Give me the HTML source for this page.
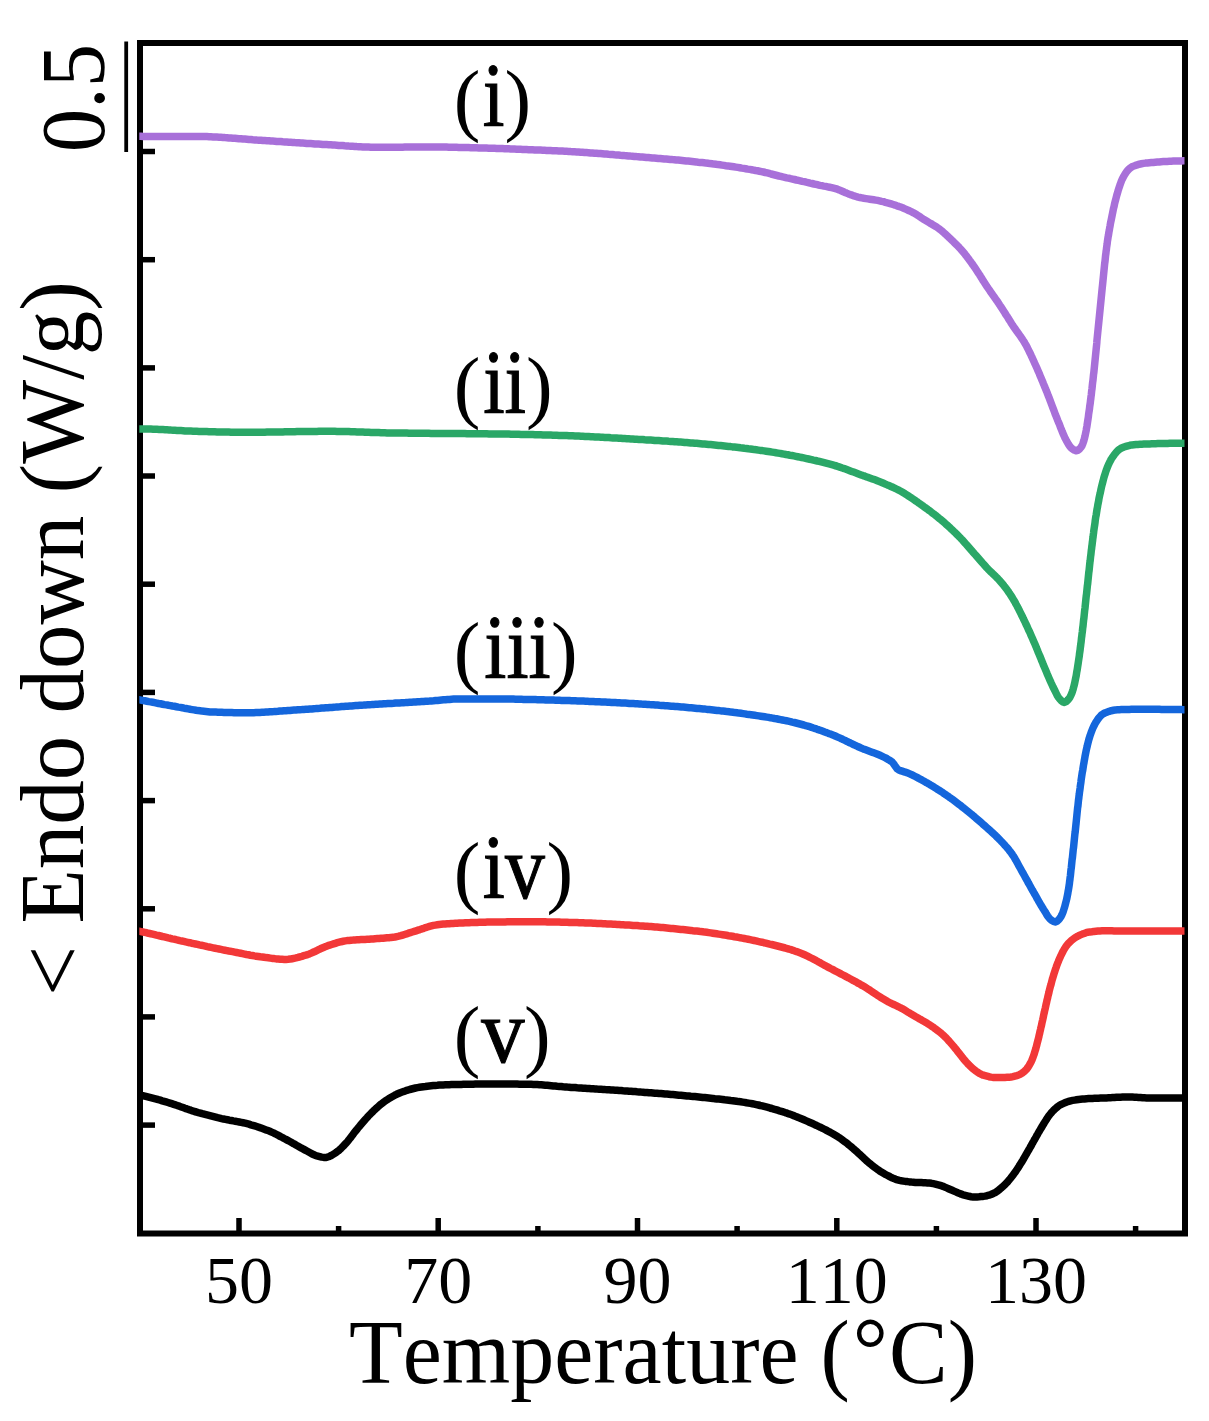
<!DOCTYPE html>
<html><head><meta charset="utf-8"><style>
html,body{margin:0;padding:0;background:#fff;}
svg{display:block;}
text{font-family:"Liberation Serif",serif;fill:#000;font-kerning:none;font-variant-ligatures:none;}
</style></head><body>
<svg width="1209" height="1421" viewBox="0 0 1209 1421">
<rect width="1209" height="1421" fill="#fff"/>
<defs><clipPath id="cp"><rect x="139.3" y="0" width="1045.2" height="1421"/></clipPath></defs>
<rect x="140" y="43" width="1045" height="1190.5" fill="none" stroke="#000" stroke-width="6"/>
<line x1="140" y1="151.5" x2="155" y2="151.5" stroke="#000" stroke-width="5.5"/>
<line x1="140" y1="259.7" x2="155" y2="259.7" stroke="#000" stroke-width="5.5"/>
<line x1="140" y1="367.9" x2="155" y2="367.9" stroke="#000" stroke-width="5.5"/>
<line x1="140" y1="476.0" x2="155" y2="476.0" stroke="#000" stroke-width="5.5"/>
<line x1="140" y1="584.2" x2="155" y2="584.2" stroke="#000" stroke-width="5.5"/>
<line x1="140" y1="692.4" x2="155" y2="692.4" stroke="#000" stroke-width="5.5"/>
<line x1="140" y1="800.6" x2="155" y2="800.6" stroke="#000" stroke-width="5.5"/>
<line x1="140" y1="908.8" x2="155" y2="908.8" stroke="#000" stroke-width="5.5"/>
<line x1="140" y1="1016.9" x2="155" y2="1016.9" stroke="#000" stroke-width="5.5"/>
<line x1="140" y1="1125.1" x2="155" y2="1125.1" stroke="#000" stroke-width="5.5"/>
<line x1="239.0" y1="1233.5" x2="239.0" y2="1218" stroke="#000" stroke-width="5.5"/>
<line x1="338.6" y1="1233.5" x2="338.6" y2="1226" stroke="#000" stroke-width="5.5"/>
<line x1="438.2" y1="1233.5" x2="438.2" y2="1218" stroke="#000" stroke-width="5.5"/>
<line x1="537.9" y1="1233.5" x2="537.9" y2="1226" stroke="#000" stroke-width="5.5"/>
<line x1="637.5" y1="1233.5" x2="637.5" y2="1218" stroke="#000" stroke-width="5.5"/>
<line x1="737.1" y1="1233.5" x2="737.1" y2="1226" stroke="#000" stroke-width="5.5"/>
<line x1="836.8" y1="1233.5" x2="836.8" y2="1218" stroke="#000" stroke-width="5.5"/>
<line x1="936.4" y1="1233.5" x2="936.4" y2="1226" stroke="#000" stroke-width="5.5"/>
<line x1="1036.0" y1="1233.5" x2="1036.0" y2="1218" stroke="#000" stroke-width="5.5"/>
<line x1="1135.6" y1="1233.5" x2="1135.6" y2="1226" stroke="#000" stroke-width="5.5"/>
<line x1="126.2" y1="41.5" x2="126.2" y2="152" stroke="#000" stroke-width="3.8"/>
<path d="M137.0,1094.5 L139.0,1094.9 L140.9,1095.3 L142.9,1095.7 L144.8,1096.1 L146.8,1096.6 L148.7,1097.1 L150.7,1097.6 L152.6,1098.1 L154.5,1098.6 L156.5,1099.1 L158.4,1099.7 L160.3,1100.2 L162.2,1100.8 L164.1,1101.3 L166.1,1101.9 L168.0,1102.5 L169.9,1103.1 L171.8,1103.7 L173.7,1104.3 L175.6,1104.9 L177.5,1105.6 L179.4,1106.2 L181.3,1106.9 L183.1,1107.6 L185.0,1108.3 L186.9,1108.9 L188.8,1109.6 L190.7,1110.2 L192.6,1110.9 L194.5,1111.5 L196.4,1112.0 L198.3,1112.6 L200.3,1113.1 L202.2,1113.7 L204.1,1114.2 L206.0,1114.7 L208.0,1115.2 L209.9,1115.7 L211.9,1116.2 L213.8,1116.7 L215.7,1117.2 L217.7,1117.7 L219.6,1118.1 L221.6,1118.6 L223.5,1119.0 L225.5,1119.4 L227.5,1119.8 L229.4,1120.2 L231.4,1120.5 L233.4,1120.9 L235.3,1121.2 L237.3,1121.6 L239.3,1122.0 L241.2,1122.4 L243.2,1122.8 L245.1,1123.2 L247.1,1123.7 L249.0,1124.2 L250.9,1124.8 L252.8,1125.3 L254.8,1125.9 L256.7,1126.5 L258.6,1127.2 L260.5,1127.8 L262.4,1128.5 L264.3,1129.2 L266.1,1129.9 L268.0,1130.6 L269.8,1131.3 L271.6,1132.1 L273.5,1132.9 L275.3,1133.8 L277.0,1134.7 L278.8,1135.6 L280.6,1136.6 L282.4,1137.5 L284.1,1138.5 L285.9,1139.4 L287.7,1140.4 L289.4,1141.3 L291.2,1142.3 L292.9,1143.3 L294.7,1144.2 L296.4,1145.2 L298.2,1146.2 L299.9,1147.2 L301.6,1148.2 L303.4,1149.1 L305.2,1150.1 L306.9,1151.0 L308.7,1152.0 L310.5,1153.0 L312.2,1154.0 L314.0,1154.8 L315.9,1155.6 L317.8,1156.1 L319.7,1156.6 L321.7,1157.1 L323.7,1157.4 L325.6,1157.5 L327.5,1157.1 L329.4,1156.4 L331.3,1155.5 L333.1,1154.4 L334.8,1153.3 L336.4,1152.3 L338.0,1151.1 L339.5,1149.8 L341.0,1148.4 L342.5,1146.9 L343.9,1145.5 L345.2,1144.0 L346.6,1142.6 L347.9,1141.1 L349.1,1139.5 L350.4,1137.9 L351.6,1136.3 L352.8,1134.7 L354.0,1133.1 L355.2,1131.5 L356.5,1130.0 L357.7,1128.4 L359.0,1126.9 L360.3,1125.3 L361.6,1123.8 L362.9,1122.3 L364.2,1120.8 L365.5,1119.3 L366.9,1117.8 L368.2,1116.3 L369.6,1114.8 L371.0,1113.4 L372.4,1112.0 L373.8,1110.6 L375.3,1109.2 L376.8,1107.8 L378.3,1106.5 L379.8,1105.2 L381.3,1103.9 L382.9,1102.7 L384.5,1101.5 L386.1,1100.4 L387.8,1099.3 L389.5,1098.2 L391.2,1097.2 L393.0,1096.2 L394.8,1095.2 L396.6,1094.3 L398.4,1093.5 L400.2,1092.7 L402.1,1092.0 L403.9,1091.4 L405.8,1090.7 L407.7,1090.1 L409.7,1089.5 L411.6,1089.0 L413.6,1088.5 L415.5,1088.0 L417.5,1087.6 L419.5,1087.3 L421.4,1087.0 L423.4,1086.7 L425.4,1086.5 L427.3,1086.2 L429.3,1086.0 L431.3,1085.8 L433.3,1085.6 L435.3,1085.4 L437.3,1085.3 L439.3,1085.1 L441.3,1085.0 L443.3,1084.9 L445.3,1084.8 L447.3,1084.7 L449.3,1084.7 L451.3,1084.6 L453.3,1084.5 L455.3,1084.5 L457.3,1084.5 L459.3,1084.4 L461.3,1084.4 L463.3,1084.3 L465.3,1084.3 L467.3,1084.2 L469.3,1084.2 L471.3,1084.2 L473.3,1084.2 L475.3,1084.1 L477.3,1084.1 L479.3,1084.1 L481.3,1084.1 L483.3,1084.0 L485.3,1084.0 L487.3,1084.0 L489.3,1084.0 L491.3,1084.0 L493.3,1084.0 L495.3,1084.0 L497.3,1084.0 L499.3,1084.0 L501.3,1084.0 L503.3,1084.0 L505.3,1084.0 L507.3,1084.0 L509.3,1084.1 L511.3,1084.1 L513.3,1084.1 L515.3,1084.1 L517.3,1084.1 L519.3,1084.2 L521.3,1084.2 L523.3,1084.2 L525.3,1084.2 L527.3,1084.3 L529.3,1084.3 L531.3,1084.3 L533.3,1084.4 L535.3,1084.5 L537.3,1084.6 L539.3,1084.7 L541.3,1084.8 L543.3,1085.0 L545.3,1085.2 L547.3,1085.3 L549.3,1085.5 L551.3,1085.7 L553.3,1085.9 L555.2,1086.1 L557.2,1086.3 L559.2,1086.4 L561.2,1086.6 L563.2,1086.8 L565.2,1086.9 L567.2,1087.1 L569.2,1087.2 L571.2,1087.4 L573.2,1087.5 L575.2,1087.6 L577.2,1087.8 L579.2,1087.9 L581.2,1088.0 L583.2,1088.2 L585.2,1088.3 L587.2,1088.4 L589.2,1088.5 L591.2,1088.7 L593.2,1088.8 L595.2,1088.9 L597.1,1089.1 L599.1,1089.2 L601.1,1089.3 L603.1,1089.4 L605.1,1089.6 L607.1,1089.7 L609.1,1089.8 L611.1,1090.0 L613.1,1090.1 L615.1,1090.2 L617.1,1090.3 L619.1,1090.5 L621.1,1090.6 L623.1,1090.8 L625.1,1090.9 L627.1,1091.0 L629.1,1091.2 L631.1,1091.3 L633.1,1091.5 L635.1,1091.6 L637.1,1091.8 L639.0,1091.9 L641.0,1092.1 L643.0,1092.2 L645.0,1092.4 L647.0,1092.5 L649.0,1092.7 L651.0,1092.8 L653.0,1093.0 L655.0,1093.2 L657.0,1093.3 L659.0,1093.5 L661.0,1093.6 L663.0,1093.8 L665.0,1094.0 L667.0,1094.1 L669.0,1094.3 L671.0,1094.5 L672.9,1094.6 L674.9,1094.8 L676.9,1095.0 L678.9,1095.2 L680.9,1095.3 L682.9,1095.5 L684.9,1095.7 L686.9,1095.9 L688.9,1096.1 L690.9,1096.3 L692.9,1096.4 L694.9,1096.6 L696.8,1096.8 L698.8,1097.0 L700.8,1097.2 L702.8,1097.4 L704.8,1097.6 L706.8,1097.8 L708.8,1098.0 L710.8,1098.2 L712.8,1098.4 L714.8,1098.7 L716.8,1098.9 L718.8,1099.1 L720.7,1099.3 L722.7,1099.5 L724.7,1099.8 L726.7,1100.0 L728.7,1100.2 L730.7,1100.5 L732.7,1100.7 L734.7,1101.0 L736.6,1101.3 L738.6,1101.6 L740.6,1101.8 L742.6,1102.1 L744.5,1102.4 L746.5,1102.8 L748.5,1103.1 L750.4,1103.4 L752.4,1103.8 L754.3,1104.2 L756.3,1104.6 L758.3,1105.0 L760.2,1105.5 L762.2,1105.9 L764.1,1106.4 L766.1,1106.9 L768.0,1107.4 L769.9,1108.0 L771.9,1108.5 L773.8,1109.1 L775.7,1109.6 L777.6,1110.2 L779.5,1110.8 L781.4,1111.3 L783.3,1111.9 L785.2,1112.6 L787.1,1113.2 L789.0,1113.9 L790.9,1114.5 L792.8,1115.2 L794.6,1116.0 L796.5,1116.7 L798.4,1117.5 L800.2,1118.2 L802.1,1119.0 L803.9,1119.8 L805.8,1120.6 L807.6,1121.4 L809.4,1122.2 L811.3,1123.0 L813.1,1123.8 L814.9,1124.7 L816.7,1125.5 L818.5,1126.4 L820.3,1127.2 L822.1,1128.1 L823.9,1129.0 L825.7,1129.9 L827.5,1130.9 L829.3,1131.8 L831.0,1132.8 L832.8,1133.8 L834.5,1134.8 L836.2,1135.8 L837.9,1136.8 L839.6,1137.9 L841.2,1139.0 L842.8,1140.2 L844.4,1141.4 L846.0,1142.6 L847.6,1143.8 L849.1,1145.1 L850.7,1146.4 L852.2,1147.7 L853.7,1149.0 L855.3,1150.3 L856.8,1151.6 L858.2,1153.0 L859.7,1154.3 L861.2,1155.7 L862.6,1157.1 L864.1,1158.5 L865.5,1159.8 L867.0,1161.2 L868.5,1162.5 L870.1,1163.7 L871.6,1165.0 L873.2,1166.2 L874.8,1167.4 L876.4,1168.7 L878.1,1169.8 L879.7,1171.0 L881.4,1172.1 L883.1,1173.1 L884.8,1174.1 L886.6,1175.0 L888.4,1175.9 L890.2,1176.9 L892.0,1177.8 L893.9,1178.6 L895.7,1179.3 L897.6,1179.9 L899.5,1180.4 L901.5,1180.8 L903.4,1181.1 L905.4,1181.4 L907.4,1181.6 L909.4,1181.9 L911.4,1182.1 L913.4,1182.2 L915.4,1182.4 L917.4,1182.5 L919.4,1182.6 L921.4,1182.6 L923.4,1182.7 L925.4,1182.8 L927.4,1182.9 L929.4,1183.1 L931.4,1183.3 L933.3,1183.7 L935.3,1184.1 L937.2,1184.6 L939.2,1185.1 L941.1,1185.7 L943.0,1186.3 L944.8,1187.1 L946.7,1187.9 L948.5,1188.7 L950.3,1189.5 L952.2,1190.3 L954.0,1191.1 L955.9,1191.9 L957.7,1192.7 L959.6,1193.4 L961.4,1194.2 L963.3,1194.8 L965.2,1195.3 L967.2,1195.8 L969.1,1196.3 L971.1,1196.7 L973.1,1196.9 L975.1,1197.0 L977.1,1196.9 L979.1,1196.8 L981.1,1196.6 L983.1,1196.4 L985.0,1196.1 L987.0,1195.7 L989.0,1195.2 L990.9,1194.5 L992.7,1193.7 L994.5,1192.9 L996.2,1191.9 L997.8,1190.8 L999.4,1189.5 L1001.0,1188.2 L1002.5,1186.8 L1004.0,1185.5 L1005.4,1184.1 L1006.8,1182.7 L1008.1,1181.2 L1009.4,1179.6 L1010.7,1178.1 L1011.9,1176.5 L1013.1,1174.9 L1014.3,1173.3 L1015.5,1171.7 L1016.6,1170.0 L1017.7,1168.4 L1018.8,1166.7 L1019.8,1165.0 L1020.9,1163.3 L1022.0,1161.6 L1023.0,1159.9 L1024.0,1158.1 L1025.0,1156.4 L1026.0,1154.7 L1027.0,1152.9 L1028.0,1151.2 L1029.0,1149.5 L1030.0,1147.7 L1031.0,1146.0 L1031.9,1144.2 L1032.9,1142.5 L1033.9,1140.7 L1034.9,1139.0 L1035.9,1137.2 L1036.8,1135.5 L1037.8,1133.8 L1038.8,1132.0 L1039.8,1130.3 L1040.8,1128.6 L1041.9,1126.9 L1042.9,1125.1 L1044.0,1123.4 L1045.0,1121.7 L1046.1,1120.0 L1047.1,1118.3 L1048.3,1116.6 L1049.5,1115.0 L1050.7,1113.5 L1052.0,1112.0 L1053.4,1110.5 L1054.8,1109.1 L1056.4,1107.7 L1057.9,1106.5 L1059.6,1105.3 L1061.3,1104.4 L1063.0,1103.6 L1064.9,1102.8 L1066.8,1102.0 L1068.7,1101.4 L1070.7,1100.8 L1072.6,1100.4 L1074.6,1100.1 L1076.5,1099.8 L1078.5,1099.5 L1080.5,1099.3 L1082.5,1099.1 L1084.5,1098.9 L1086.5,1098.7 L1088.5,1098.6 L1090.5,1098.5 L1092.5,1098.4 L1094.5,1098.3 L1096.5,1098.3 L1098.5,1098.2 L1100.5,1098.1 L1102.5,1098.1 L1104.5,1098.0 L1106.5,1097.9 L1108.5,1097.8 L1110.5,1097.7 L1112.5,1097.6 L1114.5,1097.5 L1116.5,1097.3 L1118.5,1097.2 L1120.5,1097.2 L1122.5,1097.1 L1124.5,1097.0 L1126.5,1097.0 L1128.5,1097.0 L1130.5,1097.0 L1132.5,1097.1 L1134.5,1097.2 L1136.5,1097.3 L1138.5,1097.4 L1140.5,1097.5 L1142.5,1097.7 L1144.5,1097.8 L1146.5,1097.9 L1148.5,1097.9 L1150.5,1098.0 L1152.5,1098.0 L1154.5,1098.0 L1156.4,1098.0 L1158.4,1098.0 L1160.4,1098.0 L1162.4,1098.0 L1164.4,1098.0 L1166.4,1098.0 L1168.4,1098.0 L1170.4,1098.0 L1172.4,1098.0 L1174.4,1098.0 L1176.4,1098.0 L1178.4,1098.0 L1180.4,1098.0 L1182.4,1098.0 L1184.4,1098.0 L1186.5,1098.0 L1188.0,1098.0" fill="none" stroke="#000000" stroke-width="7.5" stroke-linejoin="round" stroke-linecap="butt" clip-path="url(#cp)"/>
<path d="M137.0,930.8 L139.0,931.2 L140.9,931.6 L142.9,932.0 L144.8,932.4 L146.8,932.8 L148.7,933.3 L150.7,933.7 L152.6,934.1 L154.6,934.6 L156.5,935.1 L158.5,935.5 L160.4,936.0 L162.4,936.5 L164.3,936.9 L166.3,937.4 L168.2,937.9 L170.2,938.3 L172.1,938.8 L174.0,939.2 L176.0,939.7 L177.9,940.1 L179.9,940.6 L181.9,941.0 L183.8,941.4 L185.8,941.9 L187.7,942.3 L189.7,942.7 L191.6,943.2 L193.6,943.6 L195.5,944.0 L197.5,944.4 L199.4,944.9 L201.4,945.3 L203.3,945.7 L205.3,946.1 L207.3,946.6 L209.2,947.0 L211.2,947.4 L213.1,947.8 L215.1,948.2 L217.0,948.6 L219.0,949.0 L221.0,949.4 L222.9,949.8 L224.9,950.2 L226.8,950.6 L228.8,951.0 L230.8,951.3 L232.7,951.7 L234.7,952.1 L236.7,952.5 L238.6,952.9 L240.6,953.3 L242.5,953.7 L244.5,954.1 L246.5,954.5 L248.4,954.8 L250.4,955.2 L252.4,955.5 L254.4,955.9 L256.3,956.2 L258.3,956.5 L260.3,956.8 L262.3,957.0 L264.2,957.3 L266.2,957.6 L268.2,957.8 L270.2,958.1 L272.2,958.4 L274.2,958.6 L276.2,958.9 L278.2,959.0 L280.2,959.2 L282.2,959.3 L284.2,959.4 L286.1,959.4 L288.1,959.3 L290.1,959.1 L292.1,958.7 L294.0,958.3 L296.0,957.9 L298.0,957.4 L299.9,956.8 L301.9,956.3 L303.8,955.7 L305.7,955.2 L307.6,954.6 L309.4,953.9 L311.3,953.1 L313.1,952.3 L314.9,951.5 L316.8,950.6 L318.6,949.7 L320.4,948.8 L322.2,948.0 L324.1,947.2 L325.9,946.4 L327.8,945.7 L329.7,945.1 L331.6,944.5 L333.5,943.9 L335.4,943.3 L337.3,942.7 L339.3,942.2 L341.2,941.7 L343.2,941.3 L345.2,940.9 L347.1,940.6 L349.1,940.4 L351.1,940.2 L353.0,940.1 L355.0,939.9 L357.0,939.8 L359.0,939.7 L361.0,939.6 L363.0,939.5 L365.1,939.4 L367.1,939.3 L369.1,939.2 L371.1,939.0 L373.1,938.9 L375.1,938.7 L377.1,938.6 L379.1,938.5 L381.1,938.3 L383.1,938.2 L385.1,938.0 L387.1,937.8 L389.1,937.7 L391.0,937.4 L393.0,937.2 L395.0,937.0 L396.9,936.6 L398.8,936.2 L400.8,935.7 L402.7,935.1 L404.6,934.5 L406.5,933.9 L408.4,933.2 L410.3,932.6 L412.3,932.0 L414.2,931.4 L416.1,930.8 L418.0,930.2 L419.9,929.6 L421.8,928.9 L423.8,928.3 L425.7,927.6 L427.6,927.0 L429.5,926.4 L431.4,925.9 L433.4,925.4 L435.3,925.1 L437.3,924.8 L439.2,924.5 L441.2,924.3 L443.2,924.1 L445.2,924.0 L447.2,923.8 L449.2,923.7 L451.2,923.5 L453.2,923.4 L455.2,923.3 L457.2,923.2 L459.2,923.1 L461.2,923.0 L463.2,922.9 L465.2,922.8 L467.2,922.7 L469.2,922.7 L471.2,922.6 L473.2,922.5 L475.2,922.4 L477.2,922.4 L479.2,922.3 L481.2,922.3 L483.2,922.2 L485.2,922.2 L487.2,922.1 L489.2,922.1 L491.2,922.0 L493.2,922.0 L495.2,922.0 L497.2,922.0 L499.2,921.9 L501.2,921.9 L503.2,921.9 L505.2,921.9 L507.2,921.8 L509.2,921.8 L511.2,921.8 L513.2,921.8 L515.2,921.8 L517.2,921.7 L519.2,921.7 L521.2,921.7 L523.2,921.7 L525.2,921.7 L527.2,921.7 L529.2,921.7 L531.2,921.7 L533.2,921.7 L535.2,921.7 L537.2,921.7 L539.2,921.8 L541.2,921.8 L543.2,921.8 L545.2,921.8 L547.2,921.9 L549.2,921.9 L551.2,922.0 L553.2,922.0 L555.2,922.0 L557.2,922.1 L559.2,922.1 L561.2,922.2 L563.2,922.2 L565.2,922.3 L567.2,922.3 L569.2,922.4 L571.2,922.4 L573.2,922.5 L575.2,922.5 L577.2,922.6 L579.2,922.7 L581.2,922.7 L583.2,922.8 L585.2,922.9 L587.2,923.0 L589.2,923.1 L591.1,923.1 L593.1,923.2 L595.1,923.3 L597.1,923.4 L599.1,923.5 L601.1,923.6 L603.1,923.7 L605.1,923.8 L607.1,923.9 L609.1,924.0 L611.1,924.1 L613.1,924.2 L615.1,924.3 L617.1,924.4 L619.1,924.5 L621.1,924.7 L623.1,924.8 L625.1,924.9 L627.1,925.0 L629.1,925.1 L631.1,925.2 L633.1,925.4 L635.1,925.5 L637.1,925.6 L639.1,925.8 L641.1,925.9 L643.1,926.0 L645.1,926.2 L647.1,926.3 L649.1,926.5 L651.0,926.6 L653.0,926.8 L655.0,927.0 L657.0,927.1 L659.0,927.3 L661.0,927.5 L663.0,927.6 L665.0,927.8 L667.0,928.0 L669.0,928.2 L671.0,928.4 L673.0,928.6 L675.0,928.8 L677.0,929.0 L678.9,929.2 L680.9,929.4 L682.9,929.6 L684.9,929.8 L686.9,930.0 L688.9,930.2 L690.9,930.4 L692.9,930.7 L694.9,930.9 L696.8,931.1 L698.8,931.3 L700.8,931.6 L702.8,931.8 L704.8,932.1 L706.8,932.3 L708.7,932.6 L710.7,932.9 L712.7,933.2 L714.7,933.5 L716.7,933.8 L718.6,934.1 L720.6,934.4 L722.6,934.7 L724.6,935.0 L726.5,935.3 L728.5,935.7 L730.5,936.0 L732.4,936.3 L734.4,936.7 L736.4,937.0 L738.4,937.4 L740.3,937.8 L742.3,938.1 L744.3,938.5 L746.2,938.9 L748.2,939.3 L750.1,939.7 L752.1,940.1 L754.1,940.5 L756.0,940.9 L758.0,941.4 L759.9,941.8 L761.9,942.2 L763.8,942.7 L765.8,943.1 L767.7,943.6 L769.7,944.1 L771.6,944.5 L773.6,945.0 L775.5,945.5 L777.5,946.0 L779.4,946.5 L781.4,947.0 L783.3,947.5 L785.2,948.0 L787.2,948.6 L789.1,949.2 L791.0,949.7 L792.9,950.3 L794.8,951.0 L796.6,951.6 L798.5,952.3 L800.4,953.0 L802.2,953.7 L804.0,954.5 L805.8,955.3 L807.6,956.2 L809.4,957.1 L811.2,958.0 L813.0,958.9 L814.8,959.8 L816.5,960.8 L818.3,961.8 L820.1,962.7 L821.8,963.7 L823.6,964.7 L825.3,965.7 L827.1,966.6 L828.9,967.6 L830.6,968.5 L832.4,969.4 L834.2,970.4 L836.0,971.3 L837.7,972.2 L839.5,973.1 L841.3,974.1 L843.1,975.0 L844.8,975.9 L846.6,976.9 L848.4,977.8 L850.1,978.7 L851.9,979.7 L853.6,980.7 L855.4,981.6 L857.1,982.6 L858.9,983.6 L860.6,984.6 L862.4,985.6 L864.1,986.6 L865.8,987.6 L867.5,988.7 L869.2,989.7 L870.8,990.8 L872.5,992.0 L874.2,993.1 L875.8,994.2 L877.5,995.3 L879.2,996.4 L880.9,997.5 L882.6,998.6 L884.3,999.6 L886.0,1000.6 L887.7,1001.6 L889.5,1002.5 L891.3,1003.4 L893.1,1004.2 L894.9,1005.0 L896.7,1005.9 L898.6,1006.8 L900.3,1007.7 L902.1,1008.6 L903.8,1009.6 L905.5,1010.6 L907.2,1011.7 L909.0,1012.7 L910.7,1013.8 L912.4,1014.8 L914.1,1015.8 L915.8,1016.8 L917.6,1017.8 L919.3,1018.8 L921.1,1019.7 L922.8,1020.7 L924.6,1021.7 L926.3,1022.7 L928.0,1023.8 L929.7,1024.9 L931.3,1026.0 L933.0,1027.1 L934.6,1028.3 L936.2,1029.4 L937.9,1030.7 L939.4,1031.9 L941.0,1033.2 L942.5,1034.5 L943.9,1035.8 L945.4,1037.2 L946.8,1038.6 L948.1,1040.1 L949.5,1041.6 L950.8,1043.1 L952.1,1044.6 L953.4,1046.1 L954.7,1047.7 L956.0,1049.2 L957.2,1050.8 L958.4,1052.3 L959.7,1053.9 L960.9,1055.5 L962.1,1057.1 L963.4,1058.7 L964.7,1060.2 L966.0,1061.7 L967.4,1063.2 L968.7,1064.7 L970.1,1066.1 L971.6,1067.5 L973.0,1068.8 L974.6,1070.0 L976.2,1071.2 L977.9,1072.4 L979.6,1073.5 L981.4,1074.4 L983.2,1075.2 L985.1,1075.7 L987.0,1076.2 L989.0,1076.7 L991.0,1077.1 L993.0,1077.4 L995.0,1077.6 L997.0,1077.6 L999.0,1077.6 L1001.0,1077.5 L1003.0,1077.5 L1005.0,1077.4 L1007.0,1077.3 L1009.0,1077.2 L1011.0,1077.0 L1013.0,1076.6 L1014.9,1076.1 L1016.8,1075.6 L1018.7,1075.0 L1020.5,1074.1 L1022.3,1073.0 L1023.9,1071.8 L1025.3,1070.5 L1026.6,1069.1 L1027.9,1067.4 L1029.0,1065.7 L1030.0,1063.9 L1030.9,1062.2 L1031.8,1060.4 L1032.5,1058.6 L1033.2,1056.7 L1033.9,1054.8 L1034.5,1052.8 L1035.1,1050.9 L1035.7,1049.0 L1036.2,1047.1 L1036.7,1045.2 L1037.2,1043.2 L1037.7,1041.3 L1038.2,1039.3 L1038.7,1037.4 L1039.1,1035.4 L1039.6,1033.5 L1040.0,1031.5 L1040.5,1029.6 L1040.9,1027.6 L1041.4,1025.7 L1041.8,1023.7 L1042.2,1021.8 L1042.7,1019.8 L1043.1,1017.9 L1043.5,1015.9 L1043.9,1014.0 L1044.4,1012.0 L1044.8,1010.1 L1045.3,1008.1 L1045.7,1006.2 L1046.1,1004.2 L1046.6,1002.3 L1047.0,1000.3 L1047.5,998.4 L1047.9,996.4 L1048.4,994.5 L1048.9,992.5 L1049.3,990.6 L1049.8,988.6 L1050.3,986.7 L1050.9,984.8 L1051.4,982.8 L1051.9,980.9 L1052.4,979.0 L1053.0,977.1 L1053.6,975.1 L1054.2,973.2 L1054.8,971.3 L1055.4,969.4 L1056.1,967.5 L1056.7,965.6 L1057.4,963.8 L1058.2,961.9 L1058.9,960.0 L1059.7,958.2 L1060.5,956.4 L1061.4,954.6 L1062.3,952.8 L1063.2,951.0 L1064.2,949.2 L1065.3,947.5 L1066.4,945.8 L1067.6,944.3 L1068.9,942.9 L1070.4,941.5 L1071.9,940.1 L1073.5,938.8 L1075.2,937.7 L1076.9,936.6 L1078.6,935.7 L1080.4,934.9 L1082.3,934.1 L1084.2,933.4 L1086.1,932.7 L1088.1,932.2 L1090.0,931.9 L1092.0,931.7 L1093.9,931.4 L1095.9,931.2 L1097.9,931.0 L1100.0,930.9 L1102.0,930.8 L1104.0,930.8 L1106.0,930.8 L1108.0,930.8 L1110.0,930.8 L1112.0,930.8 L1114.0,930.9 L1116.0,930.9 L1118.0,930.9 L1120.0,930.9 L1122.0,931.0 L1124.0,931.0 L1126.0,931.0 L1128.0,931.0 L1130.0,931.0 L1132.0,931.1 L1134.0,931.1 L1136.0,931.1 L1138.0,931.1 L1140.0,931.1 L1142.0,931.1 L1144.0,931.1 L1146.0,931.1 L1148.0,931.1 L1150.0,931.1 L1152.0,931.1 L1154.0,931.1 L1156.0,931.1 L1158.0,931.1 L1160.0,931.1 L1162.0,931.1 L1164.0,931.1 L1166.0,931.1 L1168.0,931.1 L1170.0,931.0 L1172.0,931.0 L1174.0,931.0 L1176.0,931.0 L1178.0,931.0 L1180.0,931.0 L1182.0,931.0 L1184.0,930.9 L1186.0,930.9 L1188.0,930.9 L1188.0,930.9" fill="none" stroke="#F23838" stroke-width="7.5" stroke-linejoin="round" stroke-linecap="butt" clip-path="url(#cp)"/>
<path d="M137.0,699.5 L139.0,699.8 L140.9,700.1 L142.9,700.5 L144.9,700.8 L146.9,701.2 L148.8,701.6 L150.8,701.9 L152.8,702.3 L154.7,702.7 L156.7,703.1 L158.6,703.5 L160.6,703.8 L162.6,704.2 L164.5,704.6 L166.5,704.9 L168.5,705.3 L170.4,705.6 L172.4,706.0 L174.4,706.3 L176.4,706.7 L178.3,707.1 L180.3,707.4 L182.3,707.8 L184.2,708.2 L186.2,708.5 L188.2,708.9 L190.2,709.3 L192.1,709.6 L194.1,709.9 L196.1,710.3 L198.1,710.6 L200.1,710.8 L202.0,711.1 L204.0,711.3 L206.0,711.5 L208.0,711.7 L210.0,711.9 L212.0,712.0 L214.0,712.1 L215.9,712.1 L217.9,712.2 L219.9,712.3 L221.9,712.3 L223.9,712.4 L225.9,712.5 L227.9,712.5 L229.9,712.6 L231.9,712.6 L233.9,712.7 L235.9,712.7 L238.0,712.7 L240.0,712.8 L242.0,712.8 L244.0,712.8 L246.0,712.8 L248.0,712.8 L250.0,712.8 L251.9,712.7 L253.9,712.7 L255.9,712.6 L257.9,712.5 L259.9,712.4 L261.9,712.3 L263.9,712.2 L265.9,712.1 L267.9,712.0 L269.9,711.8 L271.9,711.7 L273.9,711.6 L275.9,711.4 L277.9,711.3 L279.9,711.1 L281.9,711.0 L283.9,710.8 L285.9,710.7 L287.9,710.5 L289.9,710.4 L291.9,710.2 L293.9,710.1 L295.9,710.0 L297.9,709.8 L299.9,709.7 L301.9,709.6 L303.9,709.4 L305.9,709.3 L307.8,709.2 L309.8,709.0 L311.8,708.9 L313.8,708.7 L315.8,708.6 L317.8,708.4 L319.8,708.3 L321.8,708.1 L323.8,708.0 L325.8,707.8 L327.8,707.7 L329.8,707.5 L331.8,707.4 L333.8,707.2 L335.8,707.1 L337.8,706.9 L339.8,706.8 L341.8,706.6 L343.7,706.5 L345.7,706.3 L347.7,706.2 L349.7,706.0 L351.7,705.9 L353.7,705.7 L355.7,705.6 L357.7,705.5 L359.7,705.3 L361.7,705.2 L363.7,705.1 L365.7,704.9 L367.7,704.8 L369.7,704.7 L371.7,704.6 L373.7,704.4 L375.7,704.3 L377.7,704.2 L379.7,704.1 L381.7,704.0 L383.7,703.8 L385.7,703.7 L387.7,703.6 L389.6,703.5 L391.6,703.4 L393.6,703.3 L395.6,703.1 L397.6,703.0 L399.6,702.9 L401.6,702.8 L403.6,702.7 L405.6,702.6 L407.6,702.4 L409.6,702.3 L411.6,702.2 L413.6,702.1 L415.6,702.0 L417.6,701.8 L419.6,701.7 L421.6,701.6 L423.6,701.5 L425.6,701.3 L427.6,701.2 L429.6,701.1 L431.6,700.9 L433.6,700.8 L435.6,700.6 L437.6,700.4 L439.6,700.2 L441.5,700.0 L443.5,699.8 L445.5,699.7 L447.5,699.5 L449.5,699.4 L451.5,699.2 L453.5,699.1 L455.5,699.0 L457.5,698.9 L459.5,698.9 L461.5,698.9 L463.5,698.9 L465.5,698.9 L467.5,698.9 L469.5,698.9 L471.5,698.9 L473.5,698.9 L475.5,698.9 L477.5,698.9 L479.5,698.9 L481.5,698.9 L483.5,698.9 L485.5,698.9 L487.5,698.9 L489.5,698.9 L491.5,698.9 L493.5,698.9 L495.5,698.9 L497.5,698.9 L499.5,698.9 L501.5,698.9 L503.5,699.0 L505.5,699.0 L507.5,699.0 L509.5,699.1 L511.5,699.1 L513.5,699.1 L515.5,699.2 L517.5,699.2 L519.5,699.3 L521.5,699.3 L523.5,699.4 L525.5,699.4 L527.5,699.4 L529.5,699.5 L531.5,699.5 L533.5,699.6 L535.5,699.6 L537.5,699.7 L539.5,699.7 L541.5,699.8 L543.5,699.8 L545.5,699.9 L547.5,699.9 L549.5,700.0 L551.5,700.0 L553.5,700.1 L555.5,700.2 L557.5,700.2 L559.5,700.3 L561.5,700.4 L563.5,700.4 L565.5,700.5 L567.5,700.6 L569.5,700.6 L571.5,700.7 L573.5,700.8 L575.5,700.8 L577.5,700.9 L579.5,701.0 L581.5,701.1 L583.5,701.1 L585.5,701.2 L587.5,701.3 L589.5,701.4 L591.5,701.5 L593.5,701.6 L595.5,701.7 L597.5,701.7 L599.5,701.8 L601.5,701.9 L603.5,702.0 L605.5,702.1 L607.5,702.2 L609.4,702.3 L611.4,702.4 L613.4,702.5 L615.4,702.6 L617.4,702.7 L619.4,702.8 L621.4,702.9 L623.4,703.0 L625.4,703.1 L627.4,703.2 L629.4,703.4 L631.4,703.5 L633.4,703.6 L635.4,703.7 L637.4,703.8 L639.4,703.9 L641.4,704.1 L643.4,704.2 L645.4,704.3 L647.4,704.4 L649.4,704.6 L651.4,704.7 L653.4,704.8 L655.4,705.0 L657.4,705.1 L659.4,705.3 L661.4,705.4 L663.4,705.5 L665.3,705.7 L667.3,705.8 L669.3,706.0 L671.3,706.2 L673.3,706.3 L675.3,706.5 L677.3,706.6 L679.3,706.8 L681.3,707.0 L683.3,707.1 L685.3,707.3 L687.3,707.5 L689.3,707.7 L691.3,707.8 L693.3,708.0 L695.2,708.2 L697.2,708.4 L699.2,708.6 L701.2,708.8 L703.2,709.0 L705.2,709.1 L707.2,709.4 L709.2,709.6 L711.2,709.8 L713.2,710.0 L715.1,710.2 L717.1,710.4 L719.1,710.6 L721.1,710.9 L723.1,711.1 L725.1,711.3 L727.1,711.6 L729.1,711.8 L731.0,712.1 L733.0,712.3 L735.0,712.6 L737.0,712.8 L739.0,713.1 L741.0,713.3 L743.0,713.6 L744.9,713.9 L746.9,714.2 L748.9,714.4 L750.9,714.7 L752.9,715.0 L754.8,715.3 L756.8,715.6 L758.8,715.9 L760.8,716.2 L762.7,716.5 L764.7,716.8 L766.7,717.1 L768.7,717.4 L770.6,717.8 L772.6,718.1 L774.6,718.5 L776.5,718.8 L778.5,719.2 L780.5,719.6 L782.4,720.0 L784.4,720.4 L786.4,720.8 L788.3,721.2 L790.3,721.6 L792.2,722.1 L794.2,722.5 L796.1,723.0 L798.0,723.5 L800.0,724.0 L801.9,724.5 L803.8,725.0 L805.7,725.6 L807.7,726.1 L809.6,726.7 L811.5,727.3 L813.4,728.0 L815.3,728.6 L817.2,729.3 L819.1,729.9 L821.0,730.6 L822.9,731.3 L824.7,732.0 L826.6,732.6 L828.5,733.4 L830.4,734.1 L832.2,734.8 L834.1,735.5 L835.9,736.3 L837.7,737.1 L839.6,737.9 L841.4,738.7 L843.2,739.6 L845.0,740.4 L846.8,741.3 L848.6,742.2 L850.4,743.0 L852.2,743.9 L854.0,744.8 L855.9,745.6 L857.7,746.5 L859.5,747.3 L861.3,748.1 L863.2,748.9 L865.0,749.6 L866.9,750.3 L868.8,751.0 L870.7,751.7 L872.6,752.4 L874.4,753.0 L876.3,753.7 L878.2,754.5 L880.0,755.3 L881.8,756.1 L883.6,757.0 L885.5,757.9 L887.3,758.9 L889.0,759.9 L890.7,761.0 L892.2,762.1 L893.5,763.6 L894.7,765.4 L895.9,767.1 L897.1,768.7 L898.6,769.8 L900.3,770.6 L902.2,771.2 L904.2,771.8 L906.2,772.4 L908.0,773.1 L909.8,773.9 L911.7,774.7 L913.5,775.6 L915.3,776.5 L917.0,777.4 L918.8,778.4 L920.6,779.3 L922.3,780.3 L924.1,781.3 L925.8,782.3 L927.6,783.2 L929.3,784.2 L931.0,785.3 L932.7,786.3 L934.4,787.3 L936.1,788.4 L937.8,789.5 L939.5,790.5 L941.2,791.6 L942.9,792.7 L944.5,793.9 L946.2,795.0 L947.8,796.1 L949.4,797.3 L951.1,798.4 L952.7,799.6 L954.3,800.8 L955.9,802.0 L957.5,803.2 L959.1,804.4 L960.7,805.6 L962.2,806.9 L963.8,808.1 L965.4,809.4 L966.9,810.6 L968.5,811.9 L970.0,813.1 L971.6,814.4 L973.1,815.7 L974.7,817.0 L976.2,818.3 L977.7,819.6 L979.2,820.9 L980.7,822.2 L982.2,823.5 L983.7,824.9 L985.2,826.2 L986.7,827.5 L988.2,828.8 L989.7,830.2 L991.2,831.5 L992.6,832.9 L994.1,834.2 L995.6,835.6 L997.0,837.0 L998.4,838.4 L999.8,839.8 L1001.2,841.3 L1002.6,842.7 L1004.0,844.2 L1005.3,845.7 L1006.7,847.2 L1008.0,848.7 L1009.2,850.3 L1010.4,851.8 L1011.6,853.4 L1012.7,855.1 L1013.8,856.7 L1014.8,858.4 L1015.8,860.2 L1016.8,861.9 L1017.8,863.7 L1018.7,865.4 L1019.7,867.2 L1020.7,869.0 L1021.6,870.7 L1022.6,872.5 L1023.6,874.2 L1024.6,876.0 L1025.5,877.7 L1026.5,879.5 L1027.5,881.2 L1028.4,883.0 L1029.4,884.7 L1030.4,886.5 L1031.3,888.2 L1032.3,890.0 L1033.3,891.7 L1034.3,893.5 L1035.3,895.2 L1036.3,896.9 L1037.2,898.7 L1038.2,900.4 L1039.2,902.2 L1040.2,903.9 L1041.2,905.6 L1042.3,907.3 L1043.3,909.0 L1044.4,910.7 L1045.5,912.4 L1046.5,914.2 L1047.6,916.0 L1048.8,917.6 L1050.1,919.1 L1051.6,920.3 L1053.4,921.4 L1055.2,921.9 L1057.0,921.2 L1058.6,919.7 L1059.9,918.2 L1061.0,916.6 L1061.9,914.8 L1062.7,912.9 L1063.4,911.0 L1064.0,909.0 L1064.6,907.1 L1065.1,905.2 L1065.6,903.3 L1066.1,901.3 L1066.6,899.4 L1067.0,897.4 L1067.4,895.4 L1067.8,893.5 L1068.1,891.5 L1068.5,889.5 L1068.8,887.6 L1069.1,885.6 L1069.4,883.6 L1069.6,881.6 L1069.9,879.6 L1070.1,877.7 L1070.4,875.7 L1070.6,873.7 L1070.8,871.7 L1071.0,869.7 L1071.3,867.7 L1071.5,865.7 L1071.7,863.7 L1071.9,861.7 L1072.1,859.7 L1072.4,857.8 L1072.6,855.8 L1072.8,853.8 L1073.0,851.8 L1073.2,849.8 L1073.5,847.8 L1073.7,845.8 L1073.9,843.8 L1074.1,841.9 L1074.3,839.9 L1074.5,837.9 L1074.7,835.9 L1074.9,833.9 L1075.2,831.9 L1075.4,829.9 L1075.6,827.9 L1075.8,825.9 L1076.0,824.0 L1076.2,822.0 L1076.4,820.0 L1076.6,818.0 L1076.8,816.0 L1077.0,814.0 L1077.2,812.0 L1077.4,810.0 L1077.6,808.0 L1077.9,806.1 L1078.1,804.1 L1078.3,802.1 L1078.5,800.1 L1078.8,798.1 L1079.0,796.1 L1079.3,794.1 L1079.5,792.2 L1079.8,790.2 L1080.1,788.2 L1080.3,786.2 L1080.6,784.2 L1080.9,782.2 L1081.1,780.3 L1081.4,778.3 L1081.7,776.3 L1082.0,774.3 L1082.3,772.3 L1082.7,770.4 L1083.0,768.4 L1083.3,766.4 L1083.6,764.5 L1084.0,762.5 L1084.3,760.5 L1084.7,758.5 L1085.0,756.6 L1085.4,754.6 L1085.8,752.6 L1086.2,750.6 L1086.6,748.7 L1087.1,746.7 L1087.5,744.8 L1088.0,742.9 L1088.5,740.9 L1089.0,739.0 L1089.6,737.1 L1090.2,735.2 L1090.9,733.3 L1091.6,731.3 L1092.3,729.5 L1093.1,727.6 L1094.0,725.8 L1094.9,724.0 L1095.8,722.4 L1096.9,720.7 L1098.1,718.9 L1099.4,717.2 L1100.8,715.7 L1102.3,714.4 L1103.8,713.5 L1105.5,712.7 L1107.4,712.0 L1109.3,711.3 L1111.3,710.7 L1113.4,710.3 L1115.4,709.9 L1117.4,709.8 L1119.3,709.7 L1121.3,709.6 L1123.3,709.5 L1125.3,709.5 L1127.3,709.4 L1129.3,709.4 L1131.4,709.3 L1133.4,709.3 L1135.4,709.3 L1137.4,709.3 L1139.4,709.3 L1141.4,709.3 L1143.4,709.3 L1145.4,709.3 L1147.4,709.3 L1149.4,709.3 L1151.4,709.3 L1153.4,709.3 L1155.4,709.3 L1157.4,709.3 L1159.4,709.3 L1161.4,709.4 L1163.4,709.4 L1165.4,709.4 L1167.4,709.4 L1169.4,709.4 L1171.4,709.5 L1173.4,709.5 L1175.4,709.5 L1177.4,709.6 L1179.4,709.6 L1181.4,709.6 L1183.4,709.7 L1185.4,709.7 L1187.4,709.8 L1188.0,709.8" fill="none" stroke="#1466DC" stroke-width="7.5" stroke-linejoin="round" stroke-linecap="butt" clip-path="url(#cp)"/>
<path d="M137.0,429.0 L139.0,429.0 L141.0,429.0 L143.0,429.0 L145.0,429.0 L147.0,429.0 L149.0,429.1 L151.0,429.1 L153.0,429.2 L155.0,429.2 L157.0,429.3 L159.0,429.4 L161.0,429.5 L163.0,429.6 L165.0,429.7 L167.0,429.8 L169.0,429.9 L171.0,430.1 L173.0,430.2 L175.0,430.3 L177.0,430.4 L179.0,430.5 L181.0,430.6 L183.0,430.7 L185.0,430.9 L187.0,431.0 L189.0,431.0 L191.0,431.1 L193.0,431.2 L195.0,431.3 L196.9,431.3 L198.9,431.4 L200.9,431.4 L202.9,431.5 L204.9,431.5 L206.9,431.6 L208.9,431.7 L210.9,431.7 L212.9,431.8 L214.9,431.8 L216.9,431.9 L218.9,431.9 L220.9,432.0 L222.9,432.0 L224.9,432.1 L226.9,432.1 L228.9,432.1 L230.9,432.2 L232.9,432.2 L234.9,432.2 L236.9,432.3 L238.9,432.3 L240.9,432.3 L242.9,432.3 L244.9,432.3 L246.9,432.3 L248.9,432.3 L250.9,432.3 L252.9,432.3 L254.9,432.3 L256.9,432.3 L258.9,432.2 L260.9,432.2 L262.9,432.2 L264.9,432.2 L266.9,432.1 L268.9,432.1 L270.9,432.1 L272.9,432.0 L274.9,432.0 L276.9,432.0 L278.9,431.9 L280.9,431.9 L282.9,431.9 L284.9,431.8 L286.9,431.8 L288.9,431.8 L290.9,431.7 L292.9,431.7 L294.9,431.7 L296.9,431.6 L298.9,431.6 L300.9,431.6 L302.9,431.5 L304.9,431.5 L306.9,431.5 L308.9,431.4 L310.9,431.4 L312.9,431.4 L314.9,431.4 L316.9,431.4 L318.9,431.3 L320.9,431.3 L322.9,431.3 L324.9,431.3 L326.9,431.3 L328.9,431.3 L330.9,431.3 L332.9,431.3 L334.9,431.3 L336.9,431.4 L338.9,431.4 L340.9,431.4 L342.9,431.5 L344.9,431.5 L346.9,431.6 L348.9,431.6 L350.9,431.7 L352.9,431.7 L354.9,431.8 L356.9,431.9 L358.9,431.9 L360.9,432.0 L362.9,432.1 L364.9,432.2 L366.9,432.2 L368.9,432.3 L370.9,432.4 L372.9,432.4 L374.9,432.5 L376.9,432.6 L378.9,432.6 L380.9,432.7 L382.9,432.8 L384.9,432.8 L386.9,432.9 L388.9,432.9 L390.9,432.9 L392.9,433.0 L394.9,433.0 L396.9,433.0 L398.9,433.1 L400.9,433.1 L402.9,433.1 L404.9,433.1 L406.9,433.1 L408.9,433.2 L410.9,433.2 L412.9,433.2 L414.9,433.2 L416.9,433.2 L418.9,433.3 L420.9,433.3 L422.9,433.3 L424.9,433.3 L426.9,433.3 L428.9,433.3 L430.9,433.4 L432.9,433.4 L434.9,433.4 L436.9,433.4 L438.9,433.4 L440.9,433.4 L442.9,433.4 L444.9,433.5 L446.9,433.5 L448.9,433.5 L450.9,433.5 L452.9,433.5 L454.9,433.5 L456.9,433.6 L458.9,433.6 L460.9,433.6 L462.9,433.6 L464.9,433.6 L466.9,433.7 L468.9,433.7 L470.9,433.7 L472.9,433.7 L474.9,433.7 L476.9,433.7 L478.9,433.8 L480.9,433.8 L482.9,433.8 L484.9,433.8 L486.9,433.8 L488.9,433.9 L490.9,433.9 L492.9,433.9 L494.9,433.9 L496.9,434.0 L498.9,434.0 L500.9,434.0 L502.9,434.0 L504.9,434.1 L506.9,434.1 L508.9,434.1 L510.9,434.2 L512.9,434.2 L514.9,434.2 L516.9,434.3 L518.9,434.3 L520.9,434.4 L522.9,434.4 L524.9,434.5 L526.9,434.5 L528.9,434.5 L530.9,434.6 L532.9,434.6 L534.9,434.7 L536.9,434.7 L538.9,434.8 L540.9,434.8 L542.9,434.9 L544.9,435.0 L546.9,435.0 L548.9,435.1 L550.9,435.1 L552.9,435.2 L554.9,435.2 L556.9,435.3 L558.9,435.4 L560.9,435.4 L562.9,435.5 L564.9,435.6 L566.9,435.6 L568.9,435.7 L570.9,435.8 L572.9,435.8 L574.9,435.9 L576.9,436.0 L578.9,436.1 L580.9,436.2 L582.9,436.3 L584.9,436.4 L586.9,436.5 L588.9,436.6 L590.9,436.7 L592.9,436.8 L594.9,436.9 L596.9,437.0 L598.9,437.1 L600.9,437.2 L602.8,437.3 L604.8,437.4 L606.8,437.5 L608.8,437.6 L610.8,437.8 L612.8,437.9 L614.8,438.0 L616.8,438.1 L618.8,438.2 L620.8,438.3 L622.8,438.5 L624.8,438.6 L626.8,438.7 L628.8,438.8 L630.8,438.9 L632.8,439.0 L634.8,439.2 L636.8,439.3 L638.8,439.4 L640.8,439.5 L642.8,439.6 L644.8,439.8 L646.8,439.9 L648.8,440.0 L650.8,440.1 L652.8,440.2 L654.8,440.4 L656.8,440.5 L658.8,440.6 L660.8,440.7 L662.8,440.9 L664.7,441.0 L666.7,441.1 L668.7,441.3 L670.7,441.4 L672.7,441.5 L674.7,441.7 L676.7,441.8 L678.7,442.0 L680.7,442.1 L682.7,442.2 L684.7,442.4 L686.7,442.5 L688.7,442.7 L690.7,442.9 L692.7,443.0 L694.7,443.2 L696.7,443.3 L698.6,443.5 L700.6,443.7 L702.6,443.9 L704.6,444.0 L706.6,444.2 L708.6,444.4 L710.6,444.6 L712.6,444.8 L714.6,445.0 L716.6,445.2 L718.6,445.4 L720.6,445.6 L722.6,445.8 L724.5,446.0 L726.5,446.2 L728.5,446.4 L730.5,446.6 L732.5,446.9 L734.5,447.1 L736.5,447.3 L738.5,447.5 L740.5,447.8 L742.4,448.0 L744.4,448.3 L746.4,448.5 L748.4,448.8 L750.4,449.0 L752.4,449.3 L754.3,449.6 L756.3,449.8 L758.3,450.1 L760.3,450.4 L762.3,450.6 L764.2,450.9 L766.2,451.2 L768.2,451.5 L770.2,451.8 L772.1,452.1 L774.1,452.4 L776.1,452.8 L778.1,453.1 L780.0,453.4 L782.0,453.8 L784.0,454.1 L786.0,454.5 L787.9,454.8 L789.9,455.2 L791.9,455.5 L793.9,455.9 L795.8,456.3 L797.8,456.7 L799.8,457.1 L801.7,457.5 L803.7,457.9 L805.6,458.3 L807.6,458.8 L809.6,459.2 L811.5,459.6 L813.5,460.1 L815.4,460.5 L817.4,461.0 L819.3,461.4 L821.2,461.9 L823.2,462.4 L825.1,462.9 L827.0,463.4 L829.0,463.9 L830.9,464.4 L832.8,464.9 L834.7,465.5 L836.6,466.0 L838.5,466.7 L840.4,467.3 L842.3,468.0 L844.2,468.6 L846.1,469.3 L848.0,470.0 L849.8,470.7 L851.7,471.4 L853.6,472.1 L855.5,472.8 L857.3,473.5 L859.2,474.2 L861.1,474.9 L863.0,475.6 L864.9,476.2 L866.8,476.9 L868.7,477.6 L870.5,478.2 L872.4,478.9 L874.3,479.6 L876.2,480.3 L878.0,481.1 L879.9,481.8 L881.7,482.5 L883.6,483.3 L885.4,484.1 L887.3,484.9 L889.1,485.6 L891.0,486.5 L892.8,487.3 L894.6,488.1 L896.4,489.0 L898.2,489.9 L899.9,490.8 L901.7,491.8 L903.4,492.8 L905.1,493.8 L906.8,494.9 L908.5,496.0 L910.2,497.1 L911.8,498.2 L913.5,499.3 L915.1,500.5 L916.8,501.6 L918.4,502.8 L920.1,503.9 L921.7,505.1 L923.3,506.2 L924.9,507.4 L926.6,508.6 L928.2,509.8 L929.8,510.9 L931.4,512.2 L933.0,513.4 L934.6,514.6 L936.1,515.8 L937.7,517.1 L939.2,518.4 L940.8,519.6 L942.3,520.9 L943.8,522.2 L945.3,523.5 L946.8,524.9 L948.3,526.2 L949.8,527.6 L951.2,528.9 L952.7,530.3 L954.1,531.7 L955.6,533.1 L957.0,534.5 L958.4,535.9 L959.8,537.3 L961.2,538.8 L962.6,540.2 L963.9,541.7 L965.2,543.2 L966.6,544.7 L967.9,546.2 L969.2,547.7 L970.5,549.2 L971.8,550.7 L973.1,552.3 L974.4,553.8 L975.8,555.3 L977.1,556.8 L978.4,558.3 L979.7,559.8 L981.0,561.3 L982.3,562.8 L983.7,564.3 L985.0,565.8 L986.3,567.3 L987.7,568.7 L989.1,570.2 L990.5,571.6 L992.0,572.9 L993.4,574.3 L994.9,575.7 L996.3,577.1 L997.7,578.5 L999.1,580.0 L1000.4,581.5 L1001.7,583.0 L1003.0,584.5 L1004.2,586.1 L1005.5,587.7 L1006.7,589.3 L1007.9,590.9 L1009.0,592.6 L1010.1,594.2 L1011.2,595.9 L1012.3,597.6 L1013.3,599.3 L1014.3,601.0 L1015.3,602.7 L1016.2,604.5 L1017.2,606.3 L1018.1,608.1 L1019.0,609.8 L1019.9,611.6 L1020.8,613.4 L1021.7,615.2 L1022.6,617.0 L1023.4,618.8 L1024.3,620.6 L1025.2,622.4 L1026.0,624.2 L1026.9,626.0 L1027.7,627.9 L1028.5,629.7 L1029.4,631.5 L1030.2,633.3 L1031.0,635.2 L1031.8,637.0 L1032.6,638.8 L1033.4,640.7 L1034.2,642.5 L1035.0,644.3 L1035.8,646.2 L1036.5,648.0 L1037.3,649.9 L1038.0,651.7 L1038.8,653.6 L1039.6,655.4 L1040.3,657.3 L1041.1,659.1 L1041.8,661.0 L1042.6,662.8 L1043.3,664.7 L1044.1,666.5 L1044.9,668.4 L1045.7,670.2 L1046.5,672.1 L1047.2,673.9 L1048.0,675.7 L1048.8,677.6 L1049.6,679.4 L1050.4,681.3 L1051.2,683.1 L1052.1,684.9 L1052.9,686.7 L1053.8,688.5 L1054.7,690.3 L1055.6,692.1 L1056.5,694.0 L1057.4,695.8 L1058.5,697.5 L1059.7,699.0 L1061.1,700.5 L1062.8,701.9 L1064.4,702.4 L1066.2,701.6 L1067.8,700.0 L1069.1,698.5 L1070.1,696.9 L1071.0,695.1 L1071.8,693.2 L1072.5,691.2 L1073.1,689.3 L1073.6,687.4 L1074.1,685.5 L1074.6,683.5 L1075.0,681.6 L1075.4,679.6 L1075.8,677.6 L1076.2,675.7 L1076.5,673.7 L1076.8,671.7 L1077.2,669.7 L1077.5,667.7 L1077.8,665.7 L1078.1,663.8 L1078.4,661.8 L1078.7,659.8 L1079.0,657.8 L1079.3,655.9 L1079.5,653.9 L1079.8,651.9 L1080.1,649.9 L1080.3,647.9 L1080.6,645.9 L1080.8,644.0 L1081.1,642.0 L1081.3,640.0 L1081.5,638.0 L1081.8,636.0 L1082.0,634.0 L1082.3,632.0 L1082.5,630.1 L1082.7,628.1 L1083.0,626.1 L1083.2,624.1 L1083.4,622.1 L1083.6,620.1 L1083.9,618.1 L1084.1,616.1 L1084.3,614.2 L1084.5,612.2 L1084.7,610.2 L1085.0,608.2 L1085.2,606.2 L1085.4,604.2 L1085.6,602.2 L1085.8,600.2 L1086.0,598.2 L1086.2,596.3 L1086.5,594.3 L1086.7,592.3 L1086.9,590.3 L1087.1,588.3 L1087.3,586.3 L1087.6,584.3 L1087.8,582.3 L1088.0,580.4 L1088.2,578.4 L1088.4,576.4 L1088.6,574.4 L1088.8,572.4 L1089.1,570.4 L1089.3,568.4 L1089.5,566.4 L1089.7,564.4 L1089.9,562.5 L1090.2,560.5 L1090.4,558.5 L1090.6,556.5 L1090.9,554.5 L1091.1,552.5 L1091.3,550.5 L1091.6,548.6 L1091.8,546.6 L1092.1,544.6 L1092.3,542.6 L1092.6,540.6 L1092.8,538.6 L1093.1,536.6 L1093.3,534.7 L1093.6,532.7 L1093.8,530.7 L1094.1,528.7 L1094.4,526.7 L1094.7,524.8 L1095.0,522.8 L1095.2,520.8 L1095.5,518.8 L1095.8,516.8 L1096.2,514.9 L1096.5,512.9 L1096.8,510.9 L1097.1,508.9 L1097.5,507.0 L1097.8,505.0 L1098.2,503.0 L1098.6,501.1 L1098.9,499.1 L1099.3,497.1 L1099.7,495.2 L1100.2,493.2 L1100.6,491.3 L1101.0,489.3 L1101.4,487.4 L1101.9,485.4 L1102.4,483.5 L1102.9,481.5 L1103.4,479.6 L1103.9,477.6 L1104.5,475.7 L1105.1,473.8 L1105.7,471.9 L1106.3,470.1 L1107.0,468.2 L1107.8,466.3 L1108.6,464.4 L1109.5,462.5 L1110.4,460.8 L1111.3,459.0 L1112.4,457.4 L1113.5,455.8 L1114.7,454.1 L1116.1,452.5 L1117.5,450.9 L1119.0,449.6 L1120.6,448.5 L1122.3,447.7 L1124.0,447.0 L1125.9,446.4 L1127.9,445.8 L1129.9,445.3 L1132.0,444.9 L1134.0,444.7 L1136.0,444.5 L1137.9,444.4 L1139.9,444.3 L1141.9,444.2 L1143.8,444.1 L1145.8,444.1 L1147.8,444.0 L1149.8,443.9 L1151.7,443.8 L1153.7,443.7 L1155.7,443.7 L1157.7,443.6 L1159.7,443.6 L1161.7,443.5 L1163.7,443.5 L1165.7,443.4 L1167.7,443.4 L1169.7,443.3 L1171.7,443.3 L1173.7,443.3 L1175.8,443.3 L1177.8,443.2 L1179.8,443.2 L1181.8,443.2 L1183.9,443.2 L1185.9,443.2 L1188.0,443.2 L1188.0,443.2" fill="none" stroke="#2AA767" stroke-width="7.5" stroke-linejoin="round" stroke-linecap="butt" clip-path="url(#cp)"/>
<path d="M137.0,136.0 L139.0,136.2 L141.0,136.3 L143.0,136.4 L145.0,136.4 L147.0,136.4 L149.0,136.4 L151.0,136.4 L153.0,136.4 L155.0,136.4 L157.0,136.4 L159.0,136.4 L161.0,136.4 L163.0,136.4 L165.0,136.4 L167.0,136.4 L169.0,136.4 L171.0,136.4 L173.0,136.4 L175.0,136.4 L177.0,136.4 L179.0,136.4 L181.0,136.4 L183.0,136.4 L185.0,136.4 L187.0,136.4 L189.0,136.4 L191.0,136.4 L193.0,136.4 L195.0,136.4 L197.0,136.4 L199.0,136.4 L201.0,136.4 L203.0,136.5 L205.0,136.5 L207.0,136.6 L209.0,136.7 L211.0,136.8 L213.0,136.9 L215.0,137.0 L217.0,137.1 L219.0,137.2 L221.0,137.3 L222.9,137.4 L224.9,137.6 L226.9,137.7 L228.9,137.9 L230.9,138.0 L232.9,138.2 L234.9,138.3 L236.9,138.5 L238.9,138.7 L240.9,138.8 L242.9,139.0 L244.9,139.1 L246.9,139.3 L248.9,139.5 L250.9,139.6 L252.9,139.8 L254.9,139.9 L256.9,140.1 L258.9,140.2 L260.9,140.3 L262.9,140.5 L264.9,140.6 L266.9,140.7 L268.9,140.8 L270.8,141.0 L272.8,141.1 L274.8,141.2 L276.8,141.4 L278.8,141.5 L280.8,141.6 L282.8,141.8 L284.8,141.9 L286.8,142.0 L288.8,142.2 L290.8,142.3 L292.8,142.4 L294.8,142.6 L296.8,142.7 L298.8,142.8 L300.8,143.0 L302.8,143.1 L304.8,143.2 L306.8,143.4 L308.8,143.5 L310.8,143.6 L312.8,143.7 L314.8,143.9 L316.7,144.0 L318.7,144.1 L320.7,144.2 L322.7,144.4 L324.7,144.5 L326.7,144.6 L328.7,144.7 L330.7,144.8 L332.7,145.0 L334.7,145.1 L336.7,145.2 L338.7,145.4 L340.7,145.5 L342.7,145.6 L344.7,145.8 L346.7,145.9 L348.7,146.1 L350.7,146.2 L352.7,146.3 L354.7,146.4 L356.7,146.6 L358.7,146.7 L360.7,146.8 L362.7,146.9 L364.7,147.0 L366.7,147.1 L368.7,147.1 L370.7,147.2 L372.7,147.2 L374.7,147.3 L376.7,147.3 L378.7,147.3 L380.7,147.3 L382.7,147.3 L384.7,147.3 L386.7,147.3 L388.7,147.3 L390.7,147.3 L392.7,147.2 L394.7,147.2 L396.7,147.2 L398.7,147.2 L400.7,147.2 L402.7,147.2 L404.7,147.1 L406.7,147.1 L408.7,147.1 L410.7,147.1 L412.7,147.1 L414.7,147.1 L416.7,147.0 L418.7,147.0 L420.7,147.0 L422.7,147.0 L424.7,147.0 L426.7,147.0 L428.7,147.0 L430.7,147.0 L432.7,147.0 L434.7,147.0 L436.7,147.0 L438.7,147.1 L440.7,147.1 L442.7,147.1 L444.7,147.1 L446.7,147.1 L448.7,147.2 L450.7,147.2 L452.7,147.3 L454.7,147.3 L456.7,147.3 L458.7,147.4 L460.7,147.4 L462.7,147.5 L464.7,147.5 L466.7,147.6 L468.7,147.6 L470.7,147.7 L472.7,147.7 L474.7,147.8 L476.7,147.8 L478.7,147.9 L480.7,147.9 L482.6,148.0 L484.6,148.0 L486.6,148.1 L488.6,148.2 L490.6,148.2 L492.6,148.3 L494.6,148.3 L496.6,148.4 L498.6,148.4 L500.6,148.5 L502.6,148.6 L504.6,148.7 L506.6,148.7 L508.6,148.8 L510.6,148.9 L512.6,149.0 L514.6,149.1 L516.6,149.2 L518.6,149.2 L520.6,149.3 L522.6,149.4 L524.6,149.5 L526.6,149.6 L528.6,149.7 L530.6,149.7 L532.6,149.8 L534.6,149.9 L536.6,150.0 L538.6,150.1 L540.6,150.1 L542.6,150.2 L544.6,150.3 L546.6,150.4 L548.6,150.5 L550.6,150.6 L552.6,150.7 L554.6,150.7 L556.6,150.8 L558.6,150.9 L560.6,151.0 L562.6,151.1 L564.6,151.2 L566.6,151.3 L568.6,151.4 L570.6,151.6 L572.6,151.7 L574.6,151.8 L576.6,151.9 L578.6,152.0 L580.6,152.2 L582.5,152.3 L584.5,152.5 L586.5,152.6 L588.5,152.7 L590.5,152.9 L592.5,153.0 L594.5,153.2 L596.5,153.3 L598.5,153.5 L600.5,153.6 L602.5,153.8 L604.5,154.0 L606.5,154.1 L608.5,154.3 L610.5,154.4 L612.5,154.6 L614.5,154.8 L616.5,154.9 L618.4,155.1 L620.4,155.3 L622.4,155.4 L624.4,155.6 L626.4,155.7 L628.4,155.9 L630.4,156.1 L632.4,156.2 L634.4,156.4 L636.4,156.6 L638.4,156.7 L640.4,156.9 L642.4,157.0 L644.4,157.2 L646.4,157.4 L648.4,157.5 L650.3,157.7 L652.3,157.9 L654.3,158.0 L656.3,158.2 L658.3,158.4 L660.3,158.5 L662.3,158.7 L664.3,158.9 L666.3,159.0 L668.3,159.2 L670.3,159.4 L672.3,159.6 L674.3,159.7 L676.3,159.9 L678.2,160.1 L680.2,160.3 L682.2,160.5 L684.2,160.7 L686.2,160.9 L688.2,161.1 L690.2,161.3 L692.2,161.5 L694.2,161.7 L696.1,161.9 L698.1,162.2 L700.1,162.4 L702.1,162.6 L704.1,162.8 L706.1,163.1 L708.1,163.3 L710.0,163.6 L712.0,163.8 L714.0,164.1 L716.0,164.3 L718.0,164.6 L720.0,164.8 L722.0,165.1 L724.0,165.4 L725.9,165.7 L727.9,165.9 L729.9,166.2 L731.9,166.5 L733.9,166.8 L735.8,167.1 L737.8,167.4 L739.8,167.7 L741.8,168.1 L743.7,168.4 L745.7,168.7 L747.7,169.1 L749.7,169.4 L751.6,169.7 L753.6,170.1 L755.6,170.5 L757.5,170.8 L759.5,171.2 L761.4,171.6 L763.4,172.0 L765.3,172.5 L767.3,172.9 L769.2,173.4 L771.1,174.0 L773.1,174.5 L775.0,175.0 L777.0,175.5 L778.9,176.0 L780.8,176.4 L782.8,176.9 L784.7,177.3 L786.7,177.8 L788.6,178.2 L790.6,178.7 L792.5,179.1 L794.5,179.5 L796.4,180.0 L798.4,180.4 L800.3,180.8 L802.3,181.3 L804.2,181.7 L806.2,182.2 L808.1,182.6 L810.1,183.1 L812.0,183.5 L814.0,184.0 L815.9,184.4 L817.9,184.8 L819.9,185.3 L821.8,185.7 L823.8,186.1 L825.8,186.4 L827.7,186.8 L829.7,187.2 L831.6,187.6 L833.6,188.1 L835.5,188.6 L837.4,189.2 L839.2,189.9 L841.1,190.7 L842.9,191.5 L844.8,192.4 L846.6,193.1 L848.5,193.9 L850.3,194.6 L852.2,195.2 L854.1,195.9 L856.0,196.5 L858.0,197.1 L859.9,197.5 L861.8,197.9 L863.8,198.3 L865.8,198.6 L867.8,198.9 L869.8,199.2 L871.7,199.5 L873.7,199.8 L875.7,200.1 L877.7,200.4 L879.6,200.8 L881.6,201.3 L883.5,201.7 L885.4,202.3 L887.4,202.8 L889.3,203.3 L891.2,203.9 L893.1,204.5 L895.0,205.1 L896.9,205.8 L898.8,206.4 L900.7,207.1 L902.6,207.8 L904.4,208.6 L906.3,209.4 L908.1,210.2 L909.9,211.0 L911.7,211.9 L913.5,212.8 L915.2,213.8 L916.9,214.8 L918.6,215.9 L920.3,217.0 L921.9,218.2 L923.6,219.3 L925.3,220.3 L927.0,221.3 L928.8,222.4 L930.5,223.4 L932.3,224.4 L934.0,225.4 L935.7,226.4 L937.3,227.5 L939.0,228.7 L940.5,229.9 L942.1,231.2 L943.6,232.5 L945.1,233.8 L946.6,235.2 L948.0,236.5 L949.5,237.9 L950.9,239.3 L952.4,240.7 L953.8,242.1 L955.2,243.5 L956.7,244.9 L958.1,246.3 L959.4,247.8 L960.8,249.3 L962.1,250.8 L963.4,252.3 L964.7,253.8 L965.9,255.4 L967.1,256.9 L968.3,258.5 L969.5,260.2 L970.7,261.8 L971.9,263.4 L973.0,265.1 L974.2,266.7 L975.3,268.3 L976.4,270.0 L977.5,271.7 L978.6,273.4 L979.7,275.0 L980.7,276.7 L981.8,278.4 L982.8,280.1 L983.9,281.8 L985.0,283.5 L986.1,285.2 L987.2,286.9 L988.3,288.5 L989.5,290.2 L990.6,291.8 L991.7,293.4 L992.9,295.1 L994.0,296.7 L995.2,298.4 L996.3,300.0 L997.5,301.6 L998.6,303.3 L999.7,305.0 L1000.8,306.6 L1001.9,308.3 L1003.0,310.0 L1004.1,311.7 L1005.1,313.4 L1006.2,315.1 L1007.3,316.7 L1008.3,318.4 L1009.4,320.1 L1010.5,321.8 L1011.5,323.5 L1012.6,325.2 L1013.7,326.8 L1014.9,328.5 L1016.0,330.1 L1017.2,331.8 L1018.4,333.4 L1019.5,335.0 L1020.7,336.7 L1021.8,338.3 L1022.9,340.0 L1024.0,341.6 L1025.0,343.4 L1026.0,345.1 L1026.9,346.8 L1027.8,348.6 L1028.7,350.4 L1029.6,352.2 L1030.5,354.0 L1031.3,355.8 L1032.2,357.7 L1033.0,359.5 L1033.8,361.3 L1034.6,363.1 L1035.5,365.0 L1036.3,366.8 L1037.1,368.6 L1037.9,370.5 L1038.7,372.3 L1039.5,374.1 L1040.2,376.0 L1041.0,377.8 L1041.8,379.7 L1042.6,381.5 L1043.3,383.4 L1044.1,385.2 L1044.8,387.1 L1045.6,388.9 L1046.3,390.8 L1047.1,392.6 L1047.8,394.5 L1048.5,396.3 L1049.3,398.2 L1050.0,400.1 L1050.7,402.0 L1051.4,403.8 L1052.1,405.7 L1052.8,407.6 L1053.5,409.4 L1054.2,411.3 L1054.9,413.2 L1055.6,415.1 L1056.4,416.9 L1057.1,418.8 L1057.8,420.6 L1058.6,422.5 L1059.4,424.3 L1060.1,426.2 L1060.8,428.1 L1061.6,430.0 L1062.3,431.8 L1063.1,433.7 L1063.9,435.5 L1064.7,437.4 L1065.6,439.1 L1066.5,440.9 L1067.5,442.6 L1068.5,444.3 L1069.7,446.1 L1070.9,447.6 L1072.4,448.9 L1074.2,450.1 L1076.0,450.8 L1077.8,450.4 L1079.5,449.0 L1080.9,447.4 L1081.9,445.9 L1082.7,444.1 L1083.4,442.1 L1084.0,440.1 L1084.5,438.2 L1085.0,436.2 L1085.4,434.3 L1085.8,432.3 L1086.2,430.4 L1086.5,428.4 L1086.9,426.4 L1087.2,424.4 L1087.5,422.4 L1087.8,420.4 L1088.1,418.5 L1088.4,416.5 L1088.6,414.5 L1088.9,412.5 L1089.2,410.6 L1089.5,408.6 L1089.7,406.6 L1090.0,404.6 L1090.3,402.6 L1090.5,400.6 L1090.8,398.7 L1091.0,396.7 L1091.3,394.7 L1091.5,392.7 L1091.7,390.7 L1092.0,388.7 L1092.2,386.7 L1092.4,384.7 L1092.6,382.8 L1092.9,380.8 L1093.1,378.8 L1093.3,376.8 L1093.5,374.8 L1093.8,372.8 L1094.0,370.8 L1094.2,368.8 L1094.4,366.9 L1094.6,364.9 L1094.8,362.9 L1095.0,360.9 L1095.2,358.9 L1095.4,356.9 L1095.6,354.9 L1095.8,352.9 L1096.0,350.9 L1096.2,348.9 L1096.4,347.0 L1096.6,345.0 L1096.8,343.0 L1096.9,341.0 L1097.1,339.0 L1097.3,337.0 L1097.5,335.0 L1097.7,333.0 L1097.9,331.0 L1098.1,329.0 L1098.3,327.0 L1098.5,325.1 L1098.7,323.1 L1098.9,321.1 L1099.1,319.1 L1099.3,317.1 L1099.5,315.1 L1099.7,313.1 L1099.9,311.1 L1100.1,309.1 L1100.3,307.1 L1100.5,305.2 L1100.7,303.2 L1100.9,301.2 L1101.1,299.2 L1101.3,297.2 L1101.5,295.2 L1101.7,293.2 L1101.9,291.2 L1102.1,289.2 L1102.3,287.2 L1102.5,285.3 L1102.7,283.3 L1102.9,281.3 L1103.1,279.3 L1103.3,277.3 L1103.5,275.3 L1103.7,273.3 L1103.9,271.3 L1104.1,269.3 L1104.3,267.3 L1104.5,265.4 L1104.7,263.4 L1105.0,261.4 L1105.2,259.4 L1105.4,257.4 L1105.6,255.4 L1105.9,253.4 L1106.1,251.4 L1106.4,249.5 L1106.6,247.5 L1106.9,245.5 L1107.2,243.5 L1107.4,241.5 L1107.7,239.6 L1108.0,237.6 L1108.4,235.6 L1108.7,233.6 L1109.0,231.7 L1109.4,229.7 L1109.7,227.7 L1110.1,225.7 L1110.4,223.8 L1110.8,221.8 L1111.2,219.9 L1111.6,217.9 L1112.0,215.9 L1112.4,214.0 L1112.8,212.0 L1113.2,210.1 L1113.6,208.1 L1114.1,206.2 L1114.5,204.2 L1115.0,202.2 L1115.5,200.3 L1116.0,198.4 L1116.5,196.4 L1117.0,194.5 L1117.6,192.6 L1118.1,190.7 L1118.7,188.8 L1119.4,186.8 L1120.0,184.9 L1120.7,183.0 L1121.4,181.1 L1122.2,179.3 L1123.1,177.5 L1124.0,175.8 L1125.0,174.1 L1126.2,172.3 L1127.5,170.6 L1128.9,169.1 L1130.4,167.8 L1131.9,166.8 L1133.6,166.1 L1135.4,165.4 L1137.3,164.8 L1139.3,164.2 L1141.4,163.8 L1143.4,163.4 L1145.5,163.1 L1147.4,162.9 L1149.4,162.7 L1151.4,162.5 L1153.3,162.4 L1155.3,162.2 L1157.3,162.0 L1159.3,161.9 L1161.2,161.7 L1163.2,161.6 L1165.2,161.5 L1167.2,161.4 L1169.2,161.3 L1171.2,161.2 L1173.2,161.1 L1175.2,161.0 L1177.2,161.0 L1179.3,160.9 L1181.3,160.9 L1183.3,160.8 L1185.3,160.8 L1187.4,160.8 L1188.0,160.8" fill="none" stroke="#A870D9" stroke-width="7.5" stroke-linejoin="round" stroke-linecap="butt" clip-path="url(#cp)"/>
<text x="239.0" y="1303" font-size="68" text-anchor="middle">50</text>
<text x="438.2" y="1303" font-size="68" text-anchor="middle">70</text>
<text x="637.5" y="1303" font-size="68" text-anchor="middle">90</text>
<text x="836.8" y="1303" font-size="68" text-anchor="middle">110</text>
<text x="1036.0" y="1303" font-size="68" text-anchor="middle">130</text>
<text transform="translate(349,1383.3) scale(1,1.045)" font-size="88">Temperature (<tspan dx="3" dy="-3.5">°</tspan><tspan dx="1" dy="3.5">C)</tspan></text>
<text transform="translate(83,638.5) rotate(-90) scale(1,1.03)" font-size="89" text-anchor="middle">&lt; Endo down (W/g)</text>
<text transform="translate(104,98) rotate(-90) scale(1,1.045)" font-size="87" text-anchor="middle">0.5</text>
<text x="453.7" y="126.4" font-size="80">(</text>
<text transform="translate(482.73,126.4) scale(0.86,1)" font-size="91" stroke="#000" stroke-width="1.1">i</text>
<text x="504.4" y="126.4" font-size="80">)</text>
<text x="453.7" y="412.5" font-size="80">(</text>
<text transform="translate(483.13,412.5) scale(0.85,1)" font-size="91" stroke="#000" stroke-width="1.1">ii</text>
<text x="526.0" y="412.5" font-size="80">)</text>
<text x="453.7" y="677.6" font-size="80">(</text>
<text transform="translate(484.32,677.6) scale(0.875,1)" font-size="91" stroke="#000" stroke-width="1.1">iii</text>
<text x="551.0" y="677.6" font-size="80">)</text>
<text x="453.7" y="898.0" font-size="80">(</text>
<text transform="translate(482.82,898.0) scale(0.875,1)" font-size="91" stroke="#000" stroke-width="1.1">iv</text>
<text x="546.4" y="898.0" font-size="80">)</text>
<text x="453.7" y="1061.8" font-size="80">(</text>
<text transform="translate(481.26,1061.8) scale(0.95,1)" font-size="91" stroke="#000" stroke-width="1.1">v</text>
<text x="524.0" y="1061.8" font-size="80">)</text>
</svg>
</body></html>
